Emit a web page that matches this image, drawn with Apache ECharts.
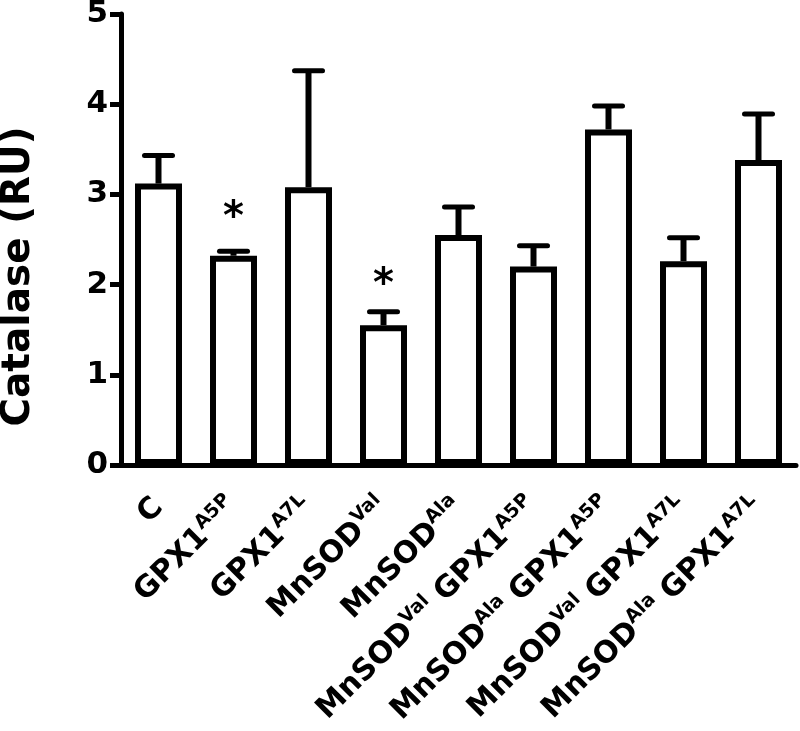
<!DOCTYPE html>
<html>
<head>
<meta charset="utf-8">
<script src="https://cdn.jsdelivr.net/npm/echarts@6/dist/echarts.min.js"></script>
<style>
  html, body { margin: 0; padding: 0; background: #fff; }
  #chart { width: 800px; height: 731px; }
</style>
</head>
<body>
<div id="chart"></div>
<script>
// '^' marks the superscript part of a word
const categories = [
  'C',
  'GPX1^A5P',
  'GPX1^A7L',
  'MnSOD^Val',
  'MnSOD^Ala',
  'MnSOD^Val GPX1^A5P',
  'MnSOD^Ala GPX1^A5P',
  'MnSOD^Val GPX1^A7L',
  'MnSOD^Ala GPX1^A7L'
];
const means = [3.12, 2.32, 3.08, 1.55, 2.55, 2.20, 3.72, 2.26, 3.38];
const errTop = [3.43, 2.37, 4.37, 1.70, 2.86, 2.43, 3.98, 2.52, 3.89];
// asterisk positions (y value) for significant groups
const starAt = [null, 2.80, null, 2.05, null, null, null, null, null];
const yTicks = [0, 1, 2, 3, 4, 5];

const FONT = 'DejaVu Sans';

function labelFormatter(name) {
  const words = name.split(' ');
  let out = '';
  words.forEach((w, i) => {
    const parts = w.split('^');
    out += '{n|' + (i > 0 ? ' ' : '') + parts[0] + '}';
    if (parts[1]) out += '{s|' + parts[1] + '}';
  });
  return out;
}

const errData = means.map((m, i) => [i, m, errTop[i]]);
const starData = [];
starAt.forEach((v, i) => { if (v != null) starData.push([i, v]); });

let myChart = echarts.init(document.getElementById('chart'));

let option = {
  animation: false,
  grid: {
    left: 121,
    right: 4,
    top: 14,
    bottom: 266,
    containLabel: false,
    outerBoundsMode: 'none'
  },
  xAxis: {
    type: 'category',
    data: categories,
    axisLine: { lineStyle: { color: '#000', width: 5 } },
    axisTick: { alignWithLabel: true, length: 12, lineStyle: { color: '#000', width: 5 } },
    axisLabel: {
      interval: 0,
      rotate: 45,
      margin: 38,
      color: '#000',
      formatter: labelFormatter,
      rich: {
        n: { fontFamily: FONT, fontWeight: 'bold', fontSize: 30, lineHeight: 36, color: '#000' },
        s: { fontFamily: FONT, fontWeight: 'bold', fontSize: 19, lineHeight: 17, verticalAlign: 'top', color: '#000' }
      }
    }
  },
  yAxis: {
    type: 'value',
    min: yTicks[0],
    max: yTicks[yTicks.length - 1],
    interval: 1,
    name: 'Catalase (RU)',
    nameLocation: 'middle',
    nameRotate: 90,
    nameGap: 83,
    nameTextStyle: {
      fontFamily: FONT,
      fontWeight: 'bold',
      fontSize: 39,
      color: '#000',
      padding: [0, 74, 0, 0]
    },
    splitLine: { show: false },
    axisLine: { show: true, lineStyle: { color: '#000', width: 5 } },
    axisTick: { show: true, length: 11, lineStyle: { color: '#000', width: 5 } },
    axisLabel: {
      margin: 13,
      fontFamily: FONT,
      fontWeight: 'bold',
      fontSize: 31,
      color: '#000'
    }
  },
  series: [
    {
      name: 'mean',
      type: 'bar',
      data: means,
      barWidth: 47,
      itemStyle: {
        color: '#fff',
        borderColor: '#000',
        borderWidth: 6
      },
      z: 2
    },
    {
      name: 'sem',
      type: 'custom',
      data: errData,
      z: 3,
      renderItem: function (params, api) {
        const base = api.coord([api.value(0), api.value(1)]);
        const top = api.coord([api.value(0), api.value(2)]);
        return {
          type: 'group',
          children: [
            {
              type: 'line',
              shape: { x1: base[0], y1: base[1], x2: base[0], y2: top[1] },
              style: { stroke: '#000', lineWidth: 6 }
            },
            {
              type: 'line',
              shape: { x1: base[0] - 14, y1: top[1], x2: base[0] + 14, y2: top[1] },
              style: { stroke: '#000', lineWidth: 5, lineCap: 'round' }
            }
          ]
        };
      }
    },
    {
      name: 'stars',
      type: 'custom',
      data: starData,
      z: 3,
      renderItem: function (params, api) {
        const p = api.coord([api.value(0), api.value(1)]);
        return {
          type: 'text',
          x: p[0],
          y: p[1] + 6,
          style: {
            text: '*',
            font: 'bold 40px ' + FONT,
            fill: '#000',
            align: 'center',
            verticalAlign: 'middle'
          }
        };
      }
    }
  ]
};
myChart.setOption(option);
</script>
</body>
</html>
